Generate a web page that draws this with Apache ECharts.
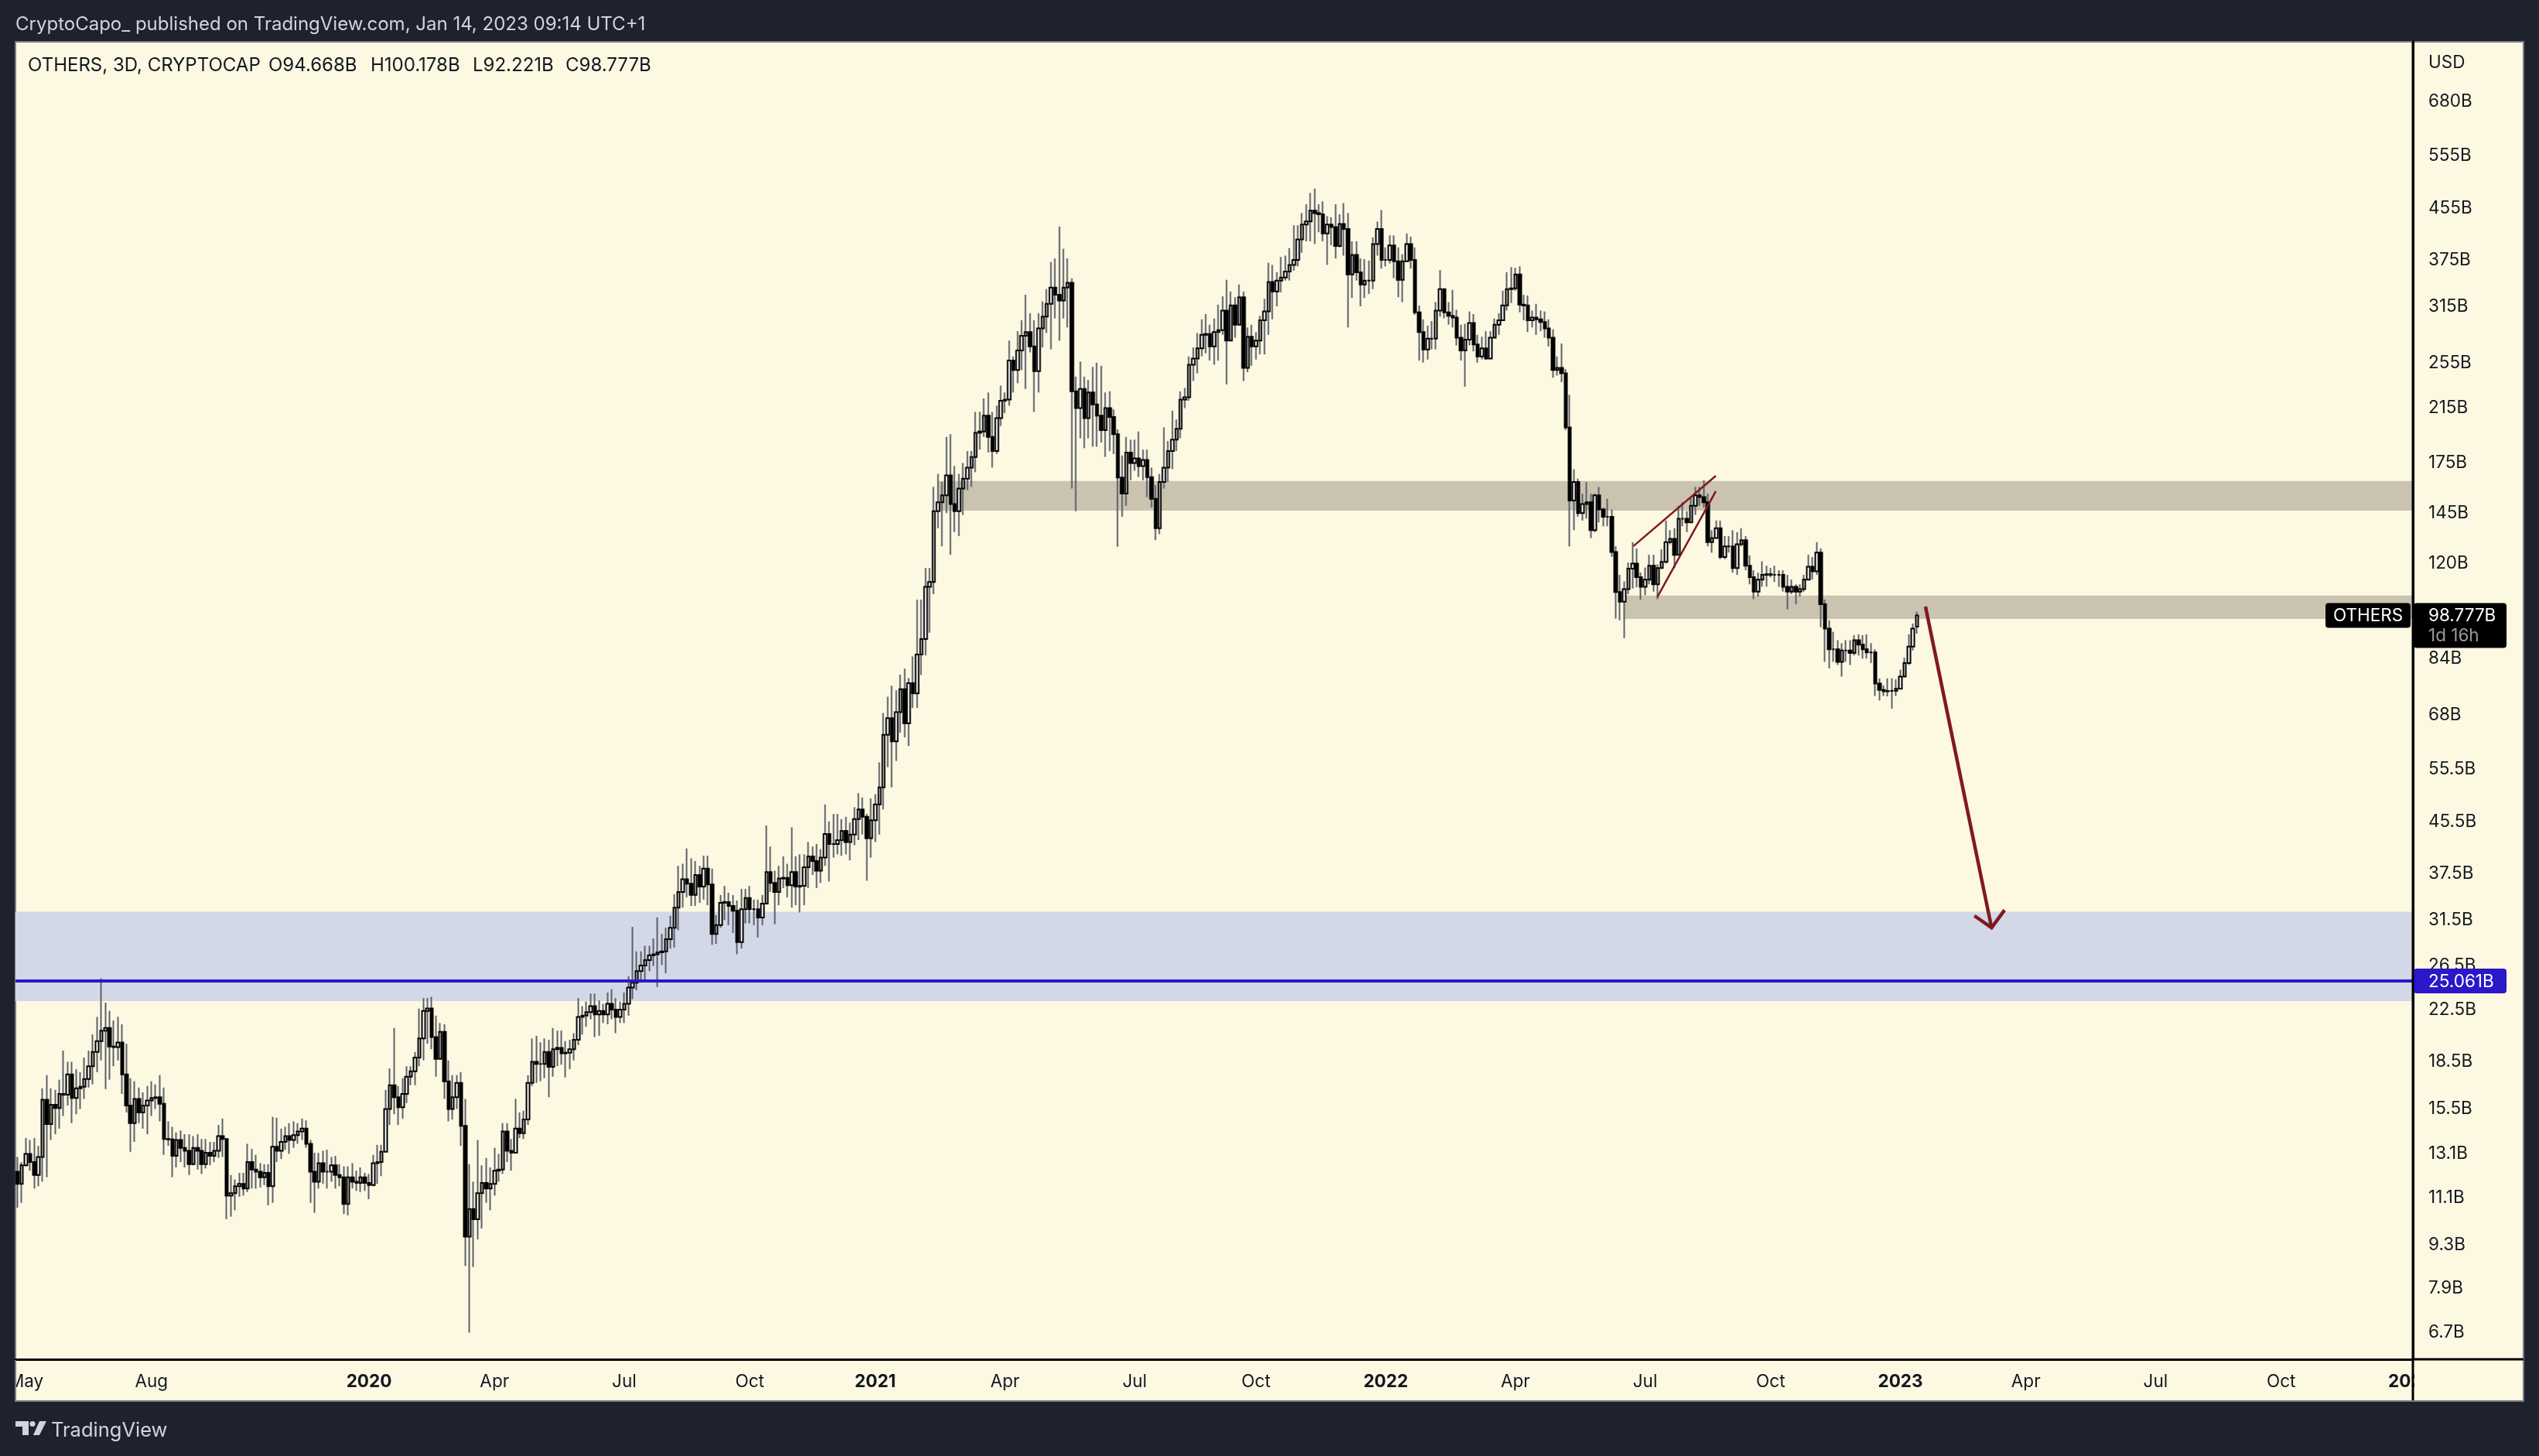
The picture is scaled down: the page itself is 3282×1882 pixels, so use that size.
<!DOCTYPE html>
<html><head><meta charset="utf-8">
<style>html,body{margin:0;padding:0;background:#1e222d}#c{width:3282px;height:1882px}</style>
<script src="https://cdn.jsdelivr.net/npm/echarts@6/dist/echarts.min.js"></script></head>
<body><div id="c"></div><script>
// Values in billions of USD. Each candle opens at the previous close.
const firstOpen = 12.25, lastOpen = 94.668;
const closes = [
11.7,12.55,13.1,12.7,12.1,12.95,16.05,14.65,15.75,15.55,
16.4,16.35,17.65,16.15,16.75,16.85,17.35,18.2,19.2,20.0,
20.8,21.0,19.6,19.55,19.9,17.65,15.7,14.7,16.1,15.3,
15.7,16.0,16.15,16.2,15.8,13.85,13.83,13.0,13.8,13.4,
13.25,12.6,13.4,13.25,12.6,13.15,13.0,13.25,14.0,13.85,
11.2,11.3,11.6,11.7,11.5,12.7,12.35,12.25,12.0,12.2,
11.6,13.45,13.25,13.7,14.0,13.8,14.05,14.25,14.4,13.6,
12.25,11.8,12.65,12.25,12.25,12.55,12.1,12.0,10.85,12.0,
11.8,11.75,12.0,11.75,11.65,12.65,12.7,13.2,15.5,16.95,
16.2,15.6,16.4,17.5,17.85,18.8,20.2,22.4,22.6,20.3,
18.7,20.7,17.2,15.5,16.2,17.1,14.55,9.6,10.65,10.25,
11.3,11.75,11.5,11.7,12.3,12.35,14.25,13.25,13.15,14.4,
14.15,14.9,17.1,18.5,18.35,18.35,19.2,18.15,19.4,19.5,
19.1,19.15,19.4,20.1,21.9,22.0,22.3,22.8,22.1,22.4,
22.1,23.0,22.5,21.9,22.5,23.0,24.45,24.9,26.0,26.55,
27.1,27.6,27.7,27.9,28.0,29.3,30.6,33.0,35.0,36.7,
36.1,34.6,37.3,35.7,38.2,36.0,29.9,30.9,33.6,33.7,
33.2,32.6,29.0,32.8,34.2,32.8,32.8,31.8,33.5,37.7,
36.2,35.0,36.8,36.9,35.9,37.7,35.7,35.8,38.4,40.0,
39.3,37.9,39.8,43.5,41.9,41.9,42.5,44.0,42.2,43.4,
46.0,47.7,46.4,42.8,45.8,48.6,51.8,63.1,67.2,61.6,
68.7,74.9,65.9,76.6,73.7,85.3,90.4,110,112,146,
151,155,167,150,146,159,165,172,179,196,
197,209,193,183,207,221,222,257,248,267,
282,286,271,247,290,303,318,338,329,322,
338,344,229,215,231,207,228,218,209,198,
215,208,195,165.7,156,182,175,178,173,177,
166,153,137,163,172,183,191,199,222,224,
253,259,269,283,284,271,286,288,310,277,
316,294,326,250,281,271,277,299,309,345,
333,347,351,359,368,375,405,428,433,451,
447,445,414,428,424,395,429,421,355,382,
358,342,347,347,398,421,375,375,396,373,
348,373,398,375,308,286,268,279,279,310,
336,308,304,302,280,267,278,296,273,261,
269,259,280,294,299,316,336,337,355,317,
316,299,302,300,297,290,280,248,250,245,
200,152,163,145,150,151,136,155,147,143,
143,125.3,107.8,104,109,117.7,120,114,110,113,
119,111,118,120.8,130,131.7,124,142,142,140,
149,155,154,151,130,132,137,123,128,128,
118,129,131,119,114,108,113,115,115.3,115,
115,115,110,108,110,108,109,113,118.6,116.5,
125,103,94,87,87,83,86.6,86.6,85.8,90,
88.5,87,86,86,76.5,74.7,74.3,74.4,74.4,75,
78.5,82.6,87.9,94,98.777];
const highs = [
12.95,12.7,13.9,13.8,13.9,13.5,16.75,17.6,16.75,16.65,
17.3,19.3,18.5,18.5,18.0,17.8,18.8,19.3,20.5,21.9,
25.3,23.1,22.4,21.6,21.9,21.3,19.8,17.4,17.2,16.8,
16.5,16.9,17.2,17.0,17.6,16.8,14.8,14.5,14.2,14.3,
14.1,14.1,14.0,14.1,13.85,13.85,13.7,13.7,14.6,14.95,
13.8,12.1,11.9,12.2,12.2,13.6,13.35,13.05,12.65,12.6,
12.6,15.05,15.0,14.4,14.5,14.7,14.8,14.7,14.95,14.85,
13.8,13.15,13.15,13.25,13.3,12.95,13.0,12.6,12.5,12.5,
12.65,12.3,12.45,12.2,12.15,13.05,13.55,13.55,16.65,18.05,
21.0,16.9,17.4,18.2,18.2,19.2,22.6,23.5,23.5,23.6,
22.0,21.4,21.3,18.6,17.6,17.6,17.8,16.1,12.6,11.8,
13.8,12.55,12.9,12.45,13.4,13.1,14.7,14.7,13.85,16.1,
15.3,15.4,17.6,20.2,20.4,19.9,20.2,20.1,21.0,20.8,
20.8,20.0,20.1,20.6,23.5,22.8,23.2,23.9,23.9,23.3,
23.0,24.0,24.3,23.5,23.2,24.0,25.5,30.7,28.0,28.0,
28.6,28.6,29.4,31.8,29.9,30.6,32.0,34.7,38.6,38.9,
41.2,39.7,39.3,38.6,40.1,40.1,38.2,32.1,34.6,35.8,
34.9,34.6,33.9,35.4,35.4,35.8,34.0,34.0,34.6,44.9,
41.5,37.9,38.6,40.0,38.9,44.6,40.0,40.3,40.3,42.2,
41.5,41.9,41.1,48.6,45.6,46.9,46.9,46.0,46.4,45.4,
48.1,50.7,49.9,46.9,49.7,50.5,56.9,68.5,72.8,75.9,
74.6,79.1,80.9,78.1,84.7,104.8,104.8,118,118,160,
168,163,193,195,173,168,175,183,183,212,
212,223,228,212,217,234,228,277,261,287,
299,329,307,299,307,321,336,372,377,425,
391,377,350,242,256,242,239,251,255,252,
228,229,214,198.5,180,193,191,191,197,184,
184,172,161,168,200,190,213,206,229,232,
261,270,285,300,306,294,301,317,327,348,
333,326,342,333,291,294,286,304,324,371,
368,358,379,381,392,427,427,447,462,482,
490,462,467,442,440,462,445,464,447,402,
402,377,376,374,408,433,452,393,411,411,
393,383,414,409,393,316,300,293,298,320,
361,337,320,335,311,294,295,309,306,283,
281,287,287,301,307,334,358,365,364,366,
329,328,310,318,310,309,300,289,261,274,
249,226,171,165,156,163,156,156,160,148,
153,147,128,115,112.2,120.5,130,127,116,118.2,
124,124,119.6,126.6,141,136,137,149,151,146,
154,160,160,164,156,136,141,141,133,133,
136,135,137,133,123.7,117,116,121,119,118,
119,117,117,115,113,111,111,115,124,123,
130,127,104.8,97,92.9,90,89,90,90,91.7,
92,91.7,92,89,87,78,76,78,78,77.7,
80.6,84.3,92,95.8,100.178];
const lows = [
10.7,10.9,12.5,12.3,11.5,11.6,11.8,12.0,13.8,14.1,
14.4,15.1,15.7,14.7,15.2,15.5,16.1,16.8,17.0,17.8,
18.6,16.7,17.3,18.2,18.6,16.4,15.3,13.2,13.7,14.7,
14.4,14.1,15.1,15.5,14.8,13.05,13.5,12.0,12.45,12.7,
12.45,12.1,12.55,12.35,12.15,12.4,12.55,12.7,12.9,12.95,
10.25,10.35,10.6,11.15,11.2,11.35,11.5,11.5,11.55,11.65,
10.8,10.9,12.7,12.85,13.3,13.1,13.4,13.6,13.8,13.4,
10.9,10.5,11.5,11.7,11.5,11.8,11.5,11.6,10.45,10.4,
11.5,11.4,11.35,11.4,11.05,11.6,11.7,12.05,14.4,14.6,
15.2,14.6,14.95,15.85,16.95,16.95,18.2,18.6,19.8,19.4,
17.5,19.0,16.1,14.8,14.9,15.5,13.5,8.6,6.7,8.57,
9.5,9.9,10.9,10.6,11.2,11.8,12.15,12.7,12.3,13.6,
13.9,13.85,14.6,16.9,17.1,17.2,17.4,16.2,17.5,18.2,
18.3,17.45,18.0,18.6,19.7,20.5,21.1,21.7,20.3,20.4,
21.4,21.3,21.7,20.6,21.4,21.4,22.0,23.4,24.2,25.0,
25.1,26.0,26.5,24.5,26.6,25.8,28.3,28.4,30.3,33.0,
34.3,33.2,33.2,33.6,34.0,33.3,28.7,28.8,30.6,31.5,
30.9,30.0,27.7,28.3,31.1,31.1,30.9,29.5,30.9,35.5,
35.0,31.0,33.3,35.5,34.3,33.0,33.3,32.4,33.3,35.5,
37.3,35.5,36.2,38.6,36.4,39.8,40.3,40.1,40.3,39.4,
41.7,42.5,43.4,36.5,39.8,42.2,43.4,47.7,55.9,51.8,
57.2,63.6,62.5,60.5,69.8,69.8,79.0,85,92.6,107,
137,128,145,124,135,133,144,158,160,169,
184,193,182,172,181,201,211,217,228,236,
248,231,265,212,228,270,285,268,301,277,
301,291,159,146,192,185,192,186,186,189,
179,183,181,127.8,143,149,164,170,166,164,
154,148,131,134,159,163,171,183,192,215,
221,238,245,261,264,257,253,257,283,235,
289,280,305,238,246,252,258,263,263,283,
300,315,332,347,347,360,366,385,402,402,
398,416,402,368,396,377,393,381,291,325,
347,315,325,330,336,381,363,366,370,350,
326,320,374,363,305,257,255,258,268,268,
303,301,294,291,272,257,233,272,266,255,
258,258,259,283,283,298,310,319,334,308,
299,286,291,283,287,280,271,241,243,237,
198,128,136,143,141,142,132,135,140,138,
138,123,97.6,97,90.7,107,109.3,109.8,104.8,106.6,
111,108,105,117.7,120,129,118,123.9,138,135,
142,144,149,148,128,125,132,122,122,125,
116,115,128,117,111,105,106,110,110,114,
112,110,108,101,107,103,106,108,113,113,
115,94.5,83,81,83,82,78.5,83,82,85,
85,84,84,82.6,73,71.8,73,72.9,69.6,73,
75,78.5,82,86.6,92.221];

const slotCount = 573;                 // candles plus the empty future slots on the time axis
const priceTicks = [680,555,455,375,315,255,215,175,145,120,84,68,55.5,45.5,37.5,31.5,26.5,22.5,18.5,15.5,13.1,11.1,9.3,7.9,6.7];
const timeTickSlots = [2,32,84,114,145,175,205,236,267,296,327,358,389,419,450,480,511,541,572];
const timeTickNames = ['May','Aug','2020','Apr','Jul','Oct','2021','Apr','Jul','Oct','2022','Apr','Jul','Oct','2023','Apr','Jul','Oct','2024'];
const supportLevel = 25.061, lastClose = 98.777;
// [start slot, top, bottom]
const tanZones = [[220.1,163.5,146.4],[383.8,106.4,97.5]];
const blueZone = [-0.5,32.5,23.24];
const wedgeUpper = [[386.2,128.1],[405.9,166.8]];
const wedgeLower = [[391.9,105.8],[405.9,157.4]];
const arrowShaft = [[456.0,102.1],[471.8,30.6]];
const arrowHead = [[467.7,32.0],[471.8,30.6],[474.9,32.7]];

const startDate = Date.UTC(2019,3,23);
const categories = Array.from({length:slotCount},(_, i)=>new Date(startDate+i*3*864e5).toISOString().slice(0,10));
const opens = closes.map((c,i)=> i===0 ? firstOpen : (i===closes.length-1 ? lastOpen : closes[i-1]));
const wickData = closes.map((c,i)=>[opens[i],c,lows[i],highs[i]]);
const bodyData = closes.map((c,i)=>[opens[i],c,Math.min(opens[i],c),Math.max(opens[i],c)]);

const FONT='Inter, "Liberation Sans", sans-serif';
const CREAM='#fdf8e1', DARK='#1e222d', BLUE='#2b18c8', RED='#801922', INK='#131722', LIGHT='#d1d4dc';
const YMIN=6.06, YMAX=850, AXIS_FS=22.5;

const chart=echarts.init(document.getElementById('c'),null,{renderer:'canvas',width:3282,height:1882});
chart.setOption({
 animation:false,backgroundColor:DARK,
 grid:{left:20,top:54,width:3099,height:1703,containLabel:false},
 xAxis:[{type:'category',data:categories,boundaryGap:true,
   axisLine:{show:true,lineStyle:{color:'#000',width:3}},axisTick:{show:false},splitLine:{show:false},
   axisLabel:{interval:(i)=>timeTickSlots.includes(i),margin:18,fontFamily:FONT,fontSize:AXIS_FS,color:INK,
     hideOverlap:false,showMinLabel:true,showMaxLabel:true,
     formatter:(v,i)=>{const n=timeTickNames[timeTickSlots.indexOf(i)];return /^\d+$/.test(n)?'{y|'+n+'}':n;},
     rich:{y:{fontFamily:FONT,fontSize:AXIS_FS,fontWeight:'bold',color:INK}}}},
  {type:'value',min:-0.5,max:slotCount-0.5,show:false,splitLine:{show:false}}],
 yAxis:[{type:'log',logBase:10,position:'right',min:YMIN,max:YMAX,
   axisLine:{show:true,onZero:false,lineStyle:{color:'#000',width:3}},axisTick:{show:false},splitLine:{show:false},minorTick:{show:false},minorSplitLine:{show:false},
   axisLabel:{customValues:priceTicks,margin:20,padding:[3,0,0,0],fontFamily:FONT,fontSize:AXIS_FS,color:INK,align:'left',hideOverlap:false,showMinLabel:true,showMaxLabel:true,
     formatter:(v)=>Number(v.toPrecision(4))+'B'}}],
 series:[
  {type:'line',name:'zones',xAxisIndex:1,yAxisIndex:0,data:[],silent:true,z:1,
   markArea:{silent:true,itemStyle:{color:'#c9c3b0',opacity:1},label:{show:false},
     data:tanZones.map(z=>[{coord:[z[0],z[1]]},{coord:[slotCount-0.5,z[2]]}]).concat([[{coord:[blueZone[0],blueZone[1]],itemStyle:{color:'#d2d8e6'}},{coord:[slotCount-0.5,blueZone[2]]}]])}},
  {type:'candlestick',name:'OTHERS wicks',xAxisIndex:0,yAxisIndex:0,data:wickData,barWidth:1,z:3,large:false,progressive:0,silent:true,
   itemStyle:{color:'#5d606b',color0:'#5d606b',borderColor:'#5d606b',borderColor0:'#5d606b',borderColorDoji:'#5d606b',borderWidth:2}},
  {type:'candlestick',name:'OTHERS',xAxisIndex:0,yAxisIndex:0,data:bodyData,barWidth:4,z:4,large:false,progressive:0,silent:true,
   itemStyle:{color:'#ffffff',color0:'#000000',borderColor:'#000000',borderColor0:'#000000',borderColorDoji:'#000000',borderWidth:2}},
  {type:'line',name:'level',xAxisIndex:1,yAxisIndex:0,data:[[-0.5,supportLevel],[slotCount-0.5,supportLevel]],symbol:'none',silent:true,z:5,lineStyle:{color:BLUE,width:4}},
  ...[wedgeUpper,wedgeLower].map(d=>({type:'line',xAxisIndex:1,yAxisIndex:0,data:d,symbol:'none',silent:true,z:6,lineStyle:{color:RED,width:2.5}})),
  ...[arrowShaft,arrowHead].map(d=>({type:'line',xAxisIndex:1,yAxisIndex:0,data:d,symbol:'none',silent:true,z:6,lineStyle:{color:RED,width:4.5,join:'miter'}}))
 ]
});

const yPx=v=>chart.convertToPixel({yAxisIndex:0},v);
const text=(x,y,s,o={})=>({type:'text',x,y,z:o.z||200,silent:true,style:{text:s,font:(o.weight||'normal')+' '+(o.size||AXIS_FS)+'px '+FONT,fill:o.fill||INK,textAlign:o.align||'left',textVerticalAlign:'middle'}});
const box=(x,y,w,h,fill,r,z)=>({type:'rect',z:z||150,silent:true,shape:{x,y,width:w,height:h,r:r||0},style:{fill}});
const lastY=yPx(lastClose), levelY=yPx(supportLevel);
chart.setOption({graphic:{elements:[
  {type:'rect',z:-5,silent:true,shape:{x:20,y:54,width:3242,height:1757},style:{fill:CREAM,stroke:'#787b86',lineWidth:2}},
  box(0,1758,20,52,DARK,0,180),
  {type:'line',z:181,silent:true,shape:{x1:20,y1:1758,x2:20,y2:1811},style:{stroke:'#787b86',lineWidth:2}},
  box(3121,1759,140,50,CREAM,0,180),
  {type:'line',z:182,silent:true,shape:{x1:3119,y1:54,x2:3119,y2:1810},style:{stroke:'#000',lineWidth:3}},
  {type:'line',z:182,silent:true,shape:{x1:3119,y1:1757,x2:3262,y2:1757},style:{stroke:'#000',lineWidth:3}},
  text(20,32,'CryptoCapo_ published on TradingView.com, Jan 14, 2023 09:14 UTC+1',{fill:LIGHT,size:24}),
  text(36,85,'OTHERS, 3D, CRYPTOCAP',{size:24}),
  text(347,85,'O94.668B',{size:24}),text(479,85,'H100.178B',{size:24}),text(611,85,'L92.221B',{size:24}),text(731,85,'C98.777B',{size:24}),
  text(3139,81,'USD'),
  box(3006,lastY-16,110,32,'#000',4), text(3061,lastY+1,'OTHERS',{fill:'#fff',align:'center'}),
  box(3120,lastY-16,120,58,'#000',4), text(3139,lastY+1,'98.777B',{fill:'#fff'}), text(3139,lastY+27,'1d 16h',{fill:'#9a9a9a'}),
  box(3120,levelY-16,120,32,BLUE,4), text(3139,levelY+1,'25.061B',{fill:'#fff'}),
  {type:'polygon',z:200,silent:true,shape:{points:[[20,1837],[37,1837],[37,1855],[29,1855],[29,1844],[20,1844]]},style:{fill:LIGHT}},
  {type:'circle',z:200,silent:true,shape:{cx:42,cy:1840.5,r:3.6},style:{fill:LIGHT}},
  {type:'polygon',z:200,silent:true,shape:{points:[[51,1837],[60,1837],[51,1855],[43,1855]]},style:{fill:LIGHT}},
  text(66,1849,'TradingView',{fill:LIGHT,size:25.5})
]}});
</script></body></html>
